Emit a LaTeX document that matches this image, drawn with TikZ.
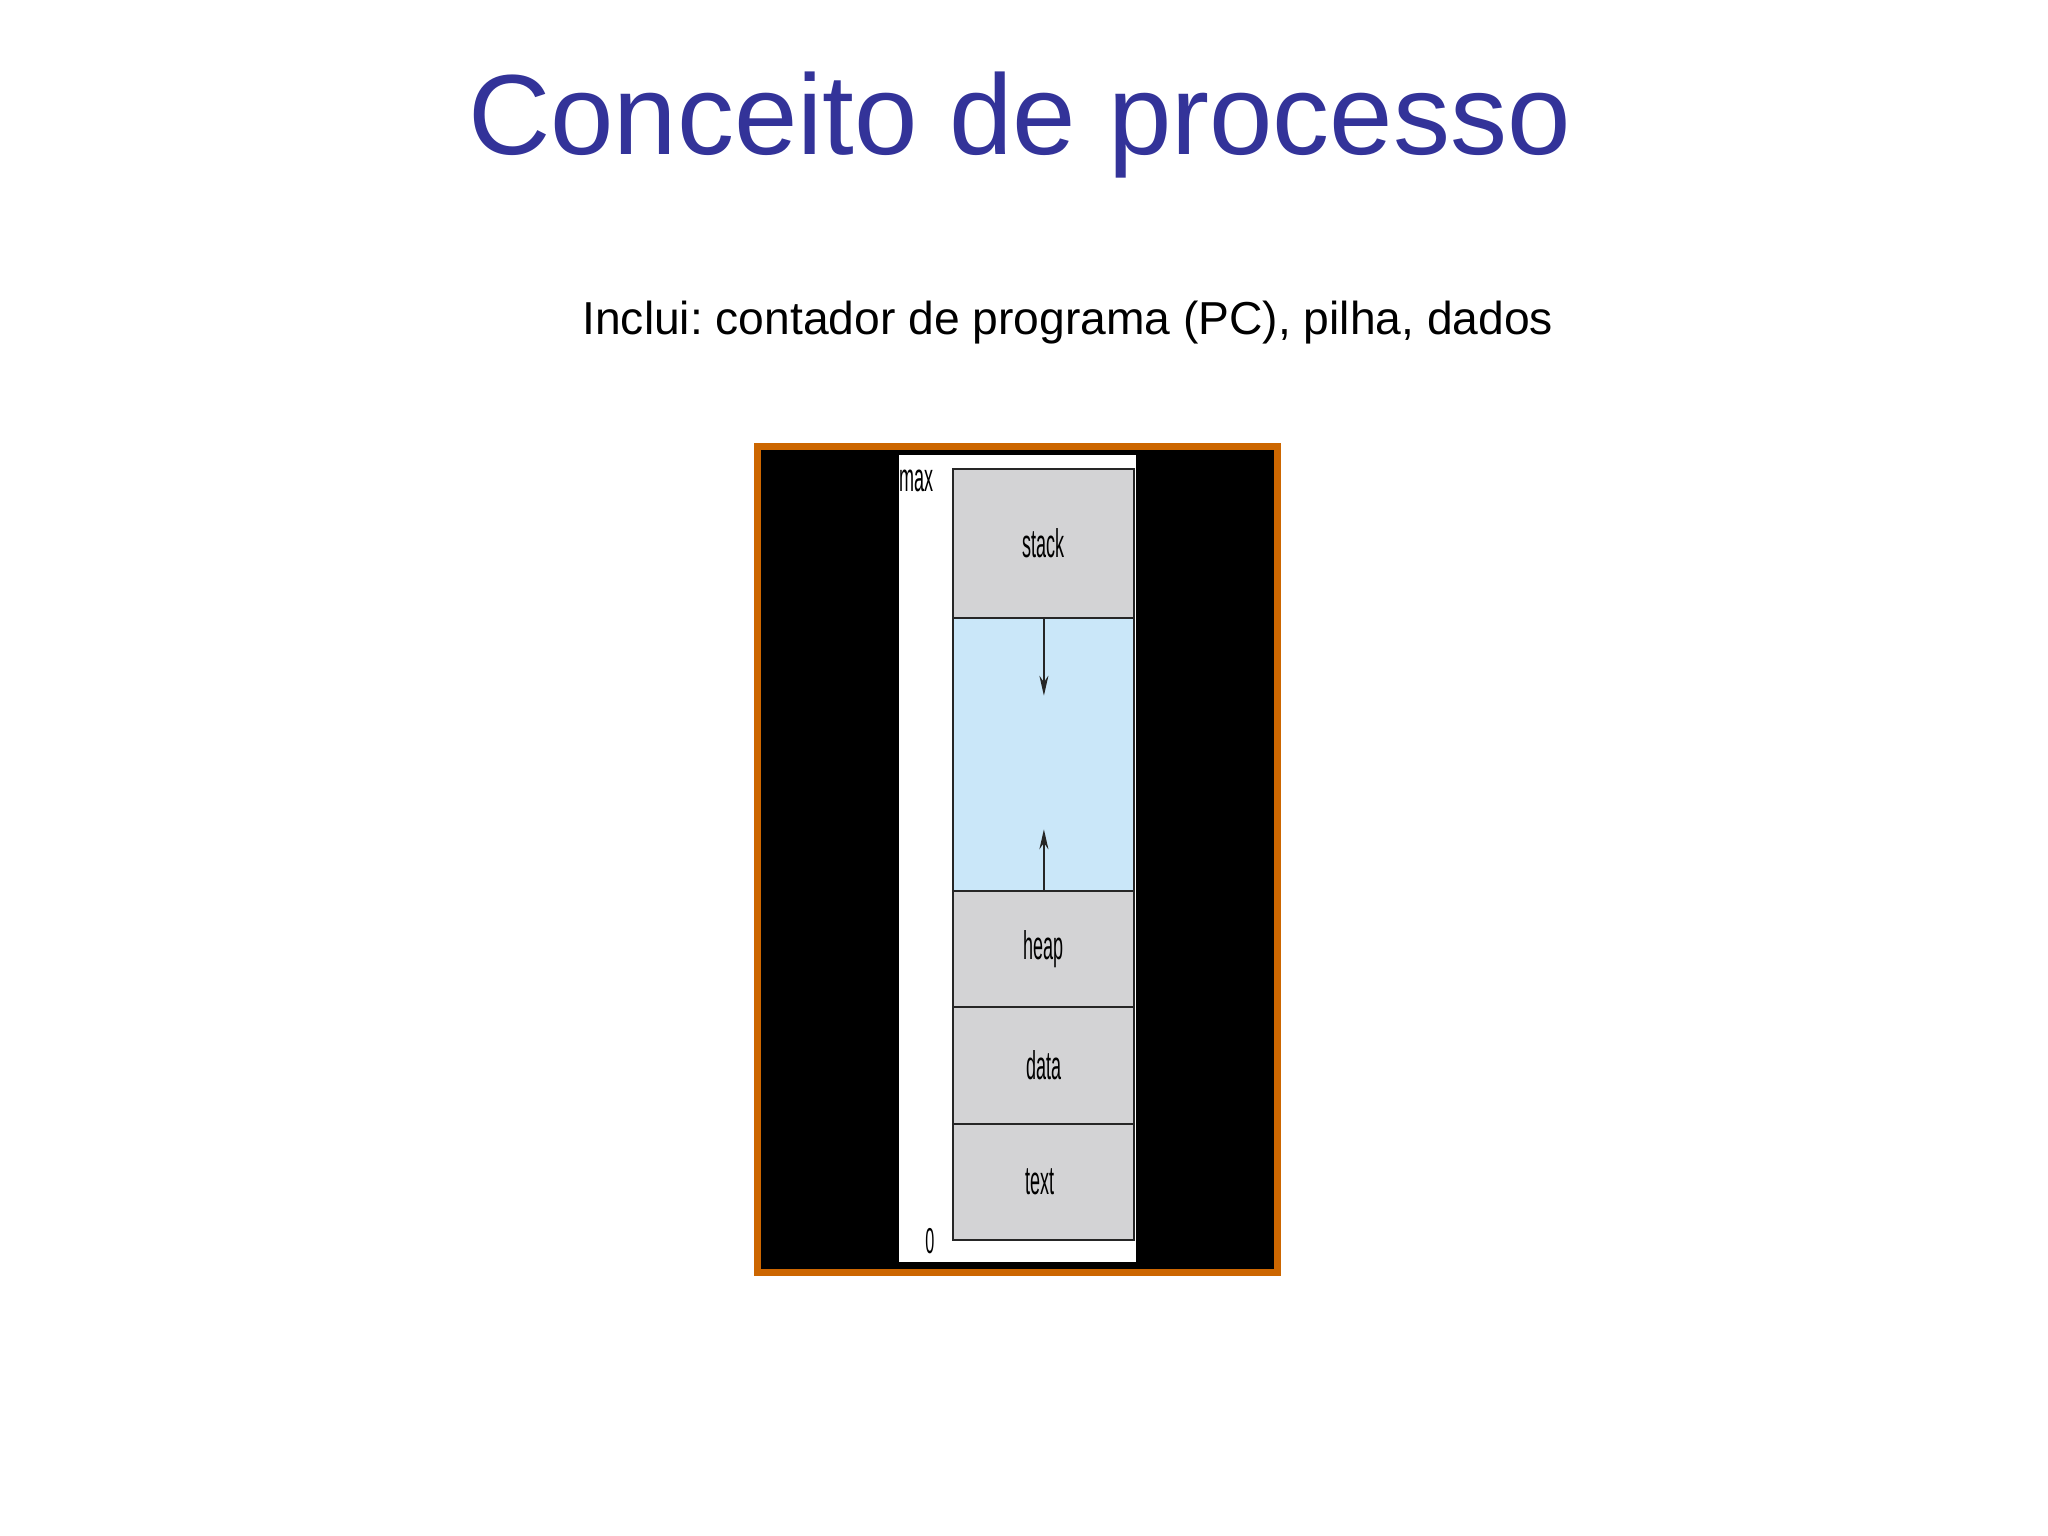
\documentclass[tikz,border=0pt]{standalone}
\usepackage{fontspec}
\setmainfont{Liberation Sans}
\newfontfamily\narrowfont[FakeStretch=0.45]{Liberation Sans}
\usetikzlibrary{arrows.meta}
\frenchspacing

\definecolor{titleblue}{HTML}{333399}
\definecolor{frameorange}{HTML}{CC6600}
\definecolor{seggray}{HTML}{D3D3D5}
\definecolor{freeblue}{HTML}{CAE7F9}

\tikzset{
	seg/.style={draw=black!85, line width=1pt, fill=seggray, minimum width=90.5pt,
		inner sep=0pt, font=\narrowfont\fontsize{20}{20}\selectfont},
	growth/.style={draw=black!85, line width=1pt, -{Stealth[length=10pt,width=4.5pt]}},
}

\begin{document}
\begin{tikzpicture}[x=0.5pt,y=-0.5pt]
				\useasboundingbox (0,0) rectangle (2048,1535);
				\fill[white] (0,0) rectangle (2048,1535);

				\node[anchor=base, inner sep=0pt, text=titleblue,
					font=\fontsize{57}{60}\selectfont] (title) at (1019.5,155) {Conceito de processo};
				\node[anchor=base west, inner sep=0pt,
					font=\fontsize{23.1}{26}\selectfont] (incl) at (582,335) {Inclui: contador de programa (PC), pilha, dados};

				% picture frame
				\draw[frameorange, line width=3.75pt, fill=black] (757.5,446.3) rectangle (1277.6,1272.5);
				\fill[white] (899.3,454.7) rectangle (1135.7,1262);

				% memory layout
				\node[seg, minimum height=74.2pt] (stack) at (1043.9,543.5) {stack};
				\node[seg, fill=freeblue, minimum height=136.65pt] (free) at (1043.9,754.35) {};
				\node[seg, minimum height=57.85pt] (heap) at (1043.9,948.85) {heap};
				\node[seg, minimum height=58.65pt] (data) at (1043.9,1065.35) {data};
				\node[seg, minimum height=58pt] (text) at (1043.9,1182) {text\hspace*{4pt}};

				\coordinate (down) at (1043.9,695.7);
				\coordinate (up) at (1043.9,829.3);
				\draw[growth] (stack.south) -- (down);
				\draw[growth] (heap.north) -- (up);

				\node[anchor=base west, inner sep=0pt, font=\narrowfont\fontsize{20}{20}\selectfont] (max) at (899.5,491.7) {max};
				\node[anchor=base west, inner sep=0pt, font=\narrowfont\fontsize{18}{18}\selectfont] (zero) at (925,1253) {0};

			\end{tikzpicture}
\end{document}
